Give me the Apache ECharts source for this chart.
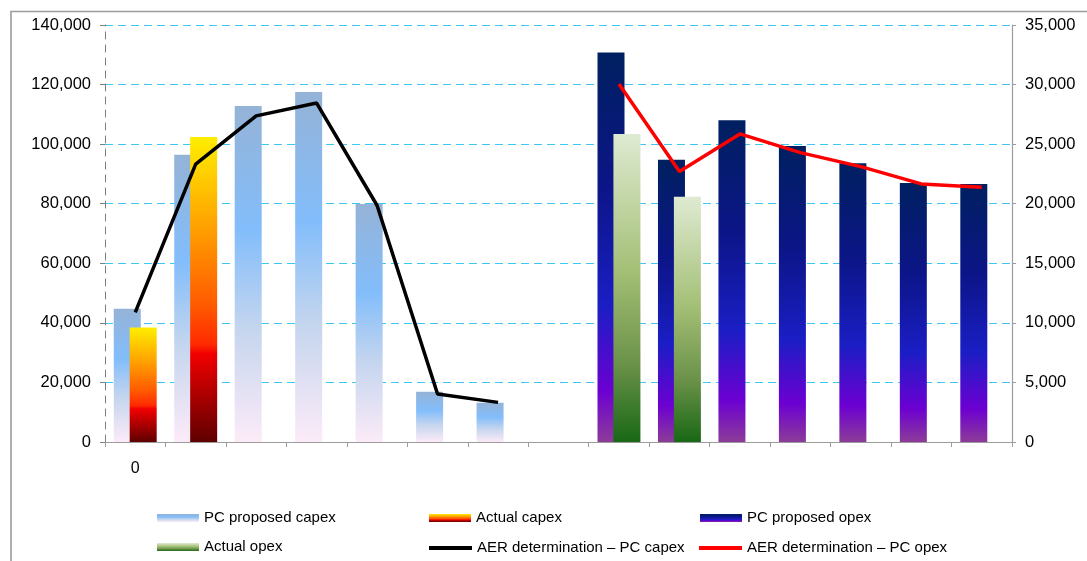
<!DOCTYPE html>
<html>
<head>
<meta charset="utf-8">
<script src="https://cdn.jsdelivr.net/npm/echarts@6/dist/echarts.min.js"></script>
<style>
  html, body { margin: 0; padding: 0; background: #ffffff; }
  #chart { width: 1087px; height: 561px; }
</style>
</head>
<body>
<div id="chart"></div>
<script>
// Category axis labels (only the first period is labelled)
const categoryLabels = ['0', '', '', '', '', '', '', '', '', '', '', '', '', '', ''];

// Capex series (left axis, $)
const pcProposedCapex = [44700, 96400, 112800, 117500, 79900, 16900, 13200, null, null, null, null, null, null, null, null];
const actualCapex     = [38400, 102400, null, null, null, null, null, null, null, null, null, null, null, null, null];
const aerCapex        = [43500, 93300, 109500, 113800, 79400, 16100, 13300, null, null, null, null, null, null, null, null];

// Opex series (right axis, $)
const pcProposedOpex  = [null, null, null, null, null, null, null, null, 32700, 23700, 27000, 24850, 23400, 21730, 21650];
const actualOpex      = [null, null, null, null, null, null, null, null, 25860, 20580, null, null, null, null, null];
const aerOpex         = [null, null, null, null, null, null, null, null, 30050, 22700, 25860, 24290, 23110, 21660, 21390];

// Axis ranges
const leftAxis  = { min: 0, max: 140000, interval: 20000 };
const rightAxis = { min: 0, max: 35000, interval: 5000 };

const NAMES = {
  pcCapex: 'PC proposed capex',
  actCapex: 'Actual capex',
  pcOpex: 'PC proposed opex',
  actOpex: 'Actual opex',
  aerCapex: 'AER determination \u2013 PC capex',
  aerOpex: 'AER determination \u2013 PC opex'
};

function withCommas(v) {
  return String(v).replace(/\B(?=(\d{3})+(?!\d))/g, ',');
}

function vGrad(stops) {
  return new echarts.graphic.LinearGradient(0, 0, 0, 1,
    stops.map(s => ({ offset: s[0], color: s[1] })));
}

const gradCapex = vGrad([[0, '#95b3d7'], [0.37, '#82bdfb'], [0.66, '#c4d5ee'], [1, '#fcebf8']]);
const gradActCapex = vGrad([[0, '#ffee00'], [0.3, '#ffa000'], [0.55, '#ff5a00'], [0.68, '#ff2a00'], [0.71, '#f20000'], [1, '#5e0000']]);
const gradOpex = vGrad([[0, '#002060'], [0.35, '#0c1588'], [0.65, '#1a1ec4'], [0.87, '#6c00d2'], [1, '#8c3c98']]);
const gradActOpex = vGrad([[0, '#dfead2'], [0.45, '#a3bf75'], [0.75, '#6a9148'], [1, '#186815']]);

const FONT = 'Liberation Sans, Arial, sans-serif';

function legendAt(name, left, centerY, opts) {
  const h = 16;
  return Object.assign({
    data: [name],
    left: left,
    top: centerY - h / 2,
    padding: 0,
    itemWidth: 42,
    itemHeight: 8,
    icon: 'rect',
    selectedMode: false,
    textStyle: { fontFamily: FONT, fontSize: 15, color: '#000', lineHeight: h }
  }, opts || {});
}

const chart = echarts.init(document.getElementById('chart'), null, { renderer: 'canvas' });

chart.setOption({
  animation: false,
  backgroundColor: '#ffffff',
  graphic: [{
    type: 'rect',
    shape: { x: 11, y: 11.5, width: 1300, height: 800 },
    style: { fill: 'none', stroke: '#9c9c9c', lineWidth: 1.6 },
    silent: true,
    z: -10
  }],
  grid: { left: 105, right: 75, top: 25, height: 417, containLabel: false },
  legend: [
    legendAt(NAMES.pcCapex, 157, 518),
    legendAt(NAMES.actCapex, 429, 518),
    legendAt(NAMES.pcOpex, 700, 518),
    legendAt(NAMES.actOpex, 157, 547),
    legendAt(NAMES.aerCapex, 429, 548, { itemHeight: 4, itemWidth: 43 }),
    legendAt(NAMES.aerOpex, 699, 548, { itemHeight: 4, itemWidth: 43 })
  ],
  xAxis: [{
    type: 'category',
    data: categoryLabels,
    boundaryGap: true,
    axisLine: { show: true, lineStyle: { color: '#9c9c9c', width: 1.2 } },
    axisTick: { show: true, interval: 0, length: 5, lineStyle: { color: '#9c9c9c' } },
    axisLabel: { interval: 0, margin: 19, fontFamily: FONT, fontSize: 16, color: '#000' },
    splitLine: { show: false }
  }, {
    type: 'category',
    data: categoryLabels,
    boundaryGap: true,
    show: false
  }],
  yAxis: [{
    type: 'value',
    position: 'left',
    min: leftAxis.min, max: leftAxis.max, interval: leftAxis.interval,
    axisLine: { show: true, lineStyle: { color: '#7f7f7f', type: [7, 6], width: 1 } },
    axisTick: { show: true, length: 5, lineStyle: { color: '#7f7f7f' } },
    axisLabel: { margin: 14, fontFamily: FONT, fontSize: 16.5, color: '#000', formatter: withCommas },
    splitLine: { show: true, lineStyle: { color: '#3cc8f2', type: [8, 5], width: 1 } }
  }, {
    type: 'value',
    position: 'right',
    min: rightAxis.min, max: rightAxis.max, interval: rightAxis.interval,
    axisLine: { show: true, lineStyle: { color: '#9c9c9c', width: 1.2 } },
    axisTick: { show: true, length: 4, lineStyle: { color: '#9c9c9c' } },
    axisLabel: { margin: 13, fontFamily: FONT, fontSize: 16.5, color: '#000', formatter: withCommas },
    splitLine: { show: false }
  }],
  series: [{
    name: NAMES.pcCapex,
    type: 'bar',
    xAxisIndex: 0, yAxisIndex: 0,
    barWidth: 27, barGap: '-41%',
    itemStyle: { color: gradCapex },
    data: pcProposedCapex
  }, {
    name: NAMES.actCapex,
    type: 'bar',
    xAxisIndex: 0, yAxisIndex: 0,
    barWidth: 27, barGap: '-41%',
    itemStyle: { color: gradActCapex },
    data: actualCapex
  }, {
    name: NAMES.pcOpex,
    type: 'bar',
    xAxisIndex: 1, yAxisIndex: 1,
    barWidth: 27, barGap: '-41%',
    itemStyle: { color: gradOpex },
    data: pcProposedOpex
  }, {
    name: NAMES.actOpex,
    type: 'bar',
    xAxisIndex: 1, yAxisIndex: 1,
    barWidth: 27, barGap: '-41%',
    itemStyle: { color: gradActOpex },
    data: actualOpex
  }, {
    name: NAMES.aerCapex,
    type: 'line',
    xAxisIndex: 0, yAxisIndex: 0,
    symbol: 'none',
    z: 5,
    lineStyle: { color: '#000000', width: 3.5 },
    itemStyle: { color: '#000000' },
    data: aerCapex
  }, {
    name: NAMES.aerOpex,
    type: 'line',
    xAxisIndex: 1, yAxisIndex: 1,
    symbol: 'none',
    z: 5,
    lineStyle: { color: '#ff0000', width: 3.5 },
    itemStyle: { color: '#ff0000' },
    data: aerOpex
  }]
});
</script>
</body>
</html>
